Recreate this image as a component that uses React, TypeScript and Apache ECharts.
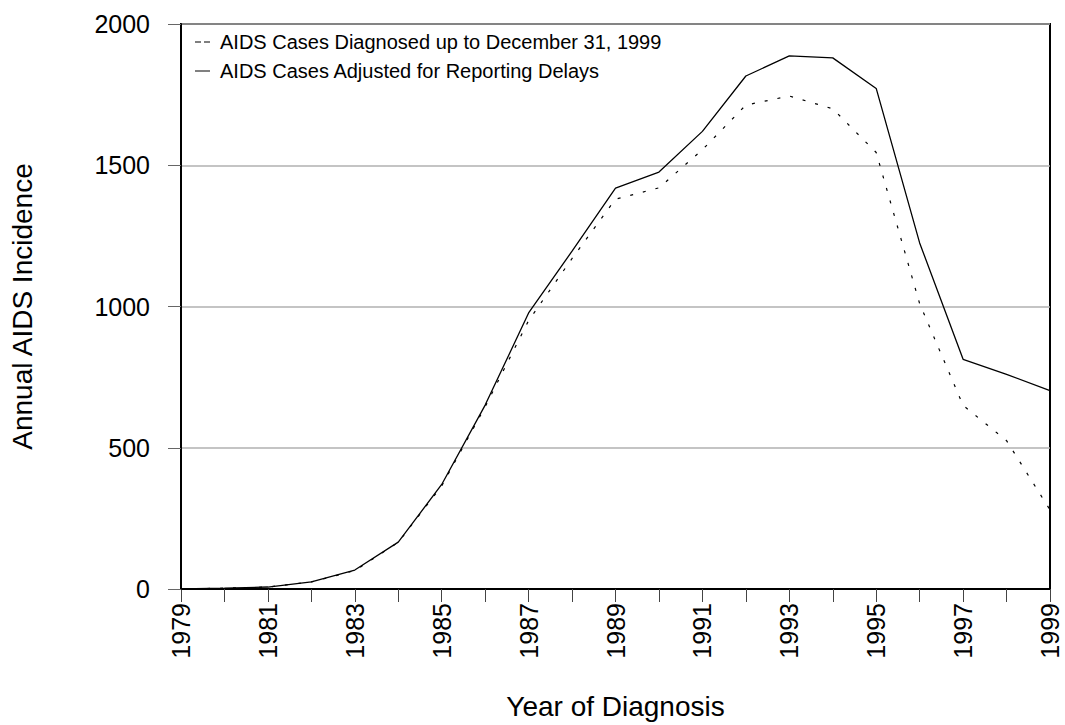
import React, { useEffect, useRef } from "react";
import * as echarts from "echarts";

const years = [
  "1979", "1980", "1981", "1982", "1983", "1984", "1985", "1986", "1987", "1988",
  "1989", "1990", "1991", "1992", "1993", "1994", "1995", "1996", "1997", "1998", "1999",
];
const diagnosed = [0, 3, 7, 25, 65, 165, 365, 645, 950, 1170, 1380, 1420, 1555, 1713, 1745, 1700, 1545, 1010, 650, 525, 280];
const adjusted = [0, 3, 7, 25, 67, 166, 370, 651, 977, 1196, 1419, 1476, 1620, 1816, 1887, 1880, 1772, 1225, 813, 760, 702];
const yTicks = [0, 500, 1000, 1500, 2000];

const seriesNames = [
  "AIDS Cases Diagnosed up to December 31, 1999",
  "AIDS Cases Adjusted for Reporting Delays",
];
const xTitle = "Year of Diagnosis";
const yTitle = "Annual AIDS Incidence";

const FONT = "'Liberation Sans', Arial, sans-serif";

export default function App() {
  const ref = useRef<HTMLDivElement>(null);
  useEffect(() => {
    if (!ref.current) return;
    const chart = echarts.init(ref.current, undefined, { renderer: "svg" });
    chart.setOption({
      animation: false,
      backgroundColor: "#fff",
      textStyle: { fontFamily: FONT },
      grid: {
        left: 181,
        right: 15,
        top: 24,
        bottom: 136,
        show: true,
        borderColor: "#000",
        borderWidth: 2,
        backgroundColor: "transparent",
      },
      legend: {
        orient: "vertical",
        left: 195,
        top: 32,
        padding: 0,
        itemWidth: 15,
        itemHeight: 1.5,
        itemGap: 9,
        textStyle: { fontSize: 20, color: "#000", fontFamily: FONT, padding: [0, 0, 0, 5] },
        data: [
          {
            name: seriesNames[0],
            icon: "path://M0,0h6v1h-6z M9,0h6v1h-6z",
            itemStyle: { color: "#000" },
          },
          {
            name: seriesNames[1],
            icon: "path://M0,0h15v1h-15z",
            itemStyle: { color: "#000" },
          },
        ],
      },
      xAxis: {
        type: "category",
        data: years,
        boundaryGap: false,
        name: xTitle,
        nameLocation: "middle",
        nameGap: 103,
        nameTextStyle: { fontSize: 28, color: "#000", fontFamily: FONT },
        axisLine: { lineStyle: { color: "#000", width: 2 } },
        axisTick: { show: true, interval: 0, length: 13, lineStyle: { color: "#444", width: 1 } },
        axisLabel: {
          interval: 1,
          rotate: 90,
          margin: 14,
          fontSize: 25,
          color: "#000",
          fontFamily: FONT,
        },
        splitLine: { show: false },
      },
      yAxis: {
        type: "value",
        min: yTicks[0],
        max: yTicks[yTicks.length - 1],
        interval: 500,
        name: yTitle,
        nameLocation: "middle",
        nameGap: 145,
        nameRotate: 90,
        nameTextStyle: { fontSize: 28, color: "#000", fontFamily: FONT },
        axisLine: { show: true, lineStyle: { color: "#000", width: 2 } },
        axisTick: { show: true, length: 13, lineStyle: { color: "#666", width: 1 } },
        axisLabel: {
          margin: 31,
          fontSize: 25,
          color: "#000",
          fontFamily: FONT,
          formatter: (v: number) => String(v),
        },
        splitLine: { show: true, lineStyle: { color: "#b0b0b0", width: 1.5 } },
      },
      series: [
        {
          name: seriesNames[0],
          type: "line",
          data: diagnosed,
          symbol: "none",
          showSymbol: false,
          lineStyle: { color: "#000", width: 1.2, type: [3, 10] },
          itemStyle: { color: "#000" },
          z: 3,
        },
        {
          name: seriesNames[1],
          type: "line",
          data: adjusted,
          symbol: "none",
          showSymbol: false,
          lineStyle: { color: "#000", width: 1.3, type: "solid" },
          itemStyle: { color: "#000" },
          z: 4,
        },
      ],
    });
    return () => chart.dispose();
  }, []);
  return <div ref={ref} style={{ width: 1065, height: 725, position: "absolute", left: 0, top: 0 }} />;
}
